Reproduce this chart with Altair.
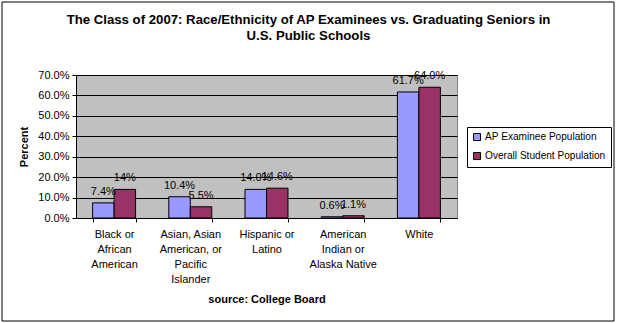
import altair as alt
import pandas as pd

categories = [
    "Black or\nAfrican\nAmerican",
    "Asian, Asian\nAmerican, or\nPacific\nIslander",
    "Hispanic or\nLatino",
    "American\nIndian or\nAlaska Native",
    "White",
]
series = ["AP Examinee Population", "Overall Student Population"]
ap_values = [0.074, 0.104, 0.140, 0.006, 0.617]
overall_values = [0.14, 0.055, 0.146, 0.011, 0.640]
ap_labels = ["7.4%", "10.4%", "14.0%", "0.6%", "61.7%"]
overall_labels = ["14%", "5.5%", "14.6%", "1.1%", "64.0%"]
y_ticks = [0.0, 0.1, 0.2, 0.3, 0.4, 0.5, 0.6, 0.7]

rows = []
for c, v, l in zip(categories, ap_values, ap_labels):
    rows.append({"category": c, "series": series[0], "value": v, "label": l})
for c, v, l in zip(categories, overall_values, overall_labels):
    rows.append({"category": c, "series": series[1], "value": v, "label": l})
df = pd.DataFrame(rows)

FONT = "Liberation Sans"

x_enc = alt.X(
    "category:N",
    sort=categories,
    scale=alt.Scale(paddingInner=0.436, paddingOuter=0.218),
    axis=alt.Axis(
        title="source: College Board",
        titleFont=FONT,
        titleFontSize=11,
        titleFontWeight="bold",
        titleColor="black",
        titlePadding=9,
        labelExpr="datum.value ? split(datum.value, '\\n') : ''",
        labelFont=FONT,
        labelFontSize=11,
        labelColor="black",
        labelLineHeight=15,
        labelAngle=0,
        labelPadding=6,
        labelBaseline="top",
        tickBand="extent",
        tickSize=4,
        tickColor="black",
        domainColor="black",
        grid=False,
    ),
)
y_enc = alt.Y(
    "value:Q",
    scale=alt.Scale(domain=[0, 0.7], nice=False),
    axis=alt.Axis(
        title="Percent",
        titleFont=FONT,
        titleFontSize=11,
        titleFontWeight="bold",
        titleColor="black",
        titlePadding=8,
        values=y_ticks,
        format=".1%",
        labelFont=FONT,
        labelFontSize=11,
        labelColor="black",
        labelPadding=3,
        tickSize=4,
        tickColor="black",
        domainColor="black",
        grid=True,
        gridColor="black",
        gridOpacity=1,
    ),
)
color_enc = alt.Color(
    "series:N",
    sort=series,
    scale=alt.Scale(domain=series, range=["#9999FF", "#993366"]),
    legend=alt.Legend(
        title=None,
        orient="none",
        legendX=391,
        legendY=52,
        symbolType="square",
        symbolSize=49,
        symbolStrokeColor="black",
        symbolStrokeWidth=1,
        symbolOpacity=1,
        labelFont=FONT,
        labelFontSize=10.1,
        labelColor="black",
        labelOffset=3,
        rowPadding=7,
        padding=5,
        strokeColor="black",
        fillColor="white",
    ),
)
xoff = alt.XOffset("series:N", sort=series, scale=alt.Scale(paddingInner=0, paddingOuter=0))

bars = alt.Chart(df).mark_bar(stroke="black", strokeWidth=1, opacity=1).encode(
    x=x_enc, y=y_enc, color=color_enc, xOffset=xoff
)
texts = alt.Chart(df).mark_text(
    baseline="alphabetic", dy=-8, font=FONT, fontSize=11, color="black"
).encode(x=x_enc, y=y_enc, xOffset=xoff, text="label:N")

frame = alt.Chart(pd.DataFrame({"v": [0]})).mark_rect(
    filled=False, stroke="black", strokeWidth=1
).encode(
    x=alt.value(-74), x2=alt.value(538), y=alt.value(-73), y2=alt.value(246)
)

chart = (
    alt.layer(bars, texts, frame)
    .properties(
        width=381,
        height=143,
        padding={"left": 76, "top": 75, "right": 161, "bottom": 105},
        autosize=alt.AutoSizeParams(type="none"),
        title=alt.TitleParams(
            text=[
                "The Class of 2007: Race/Ethnicity of AP Examinees vs. Graduating Seniors in",
                "U.S. Public Schools",
            ],
            font=FONT,
            fontSize=13.2,
            fontWeight="bold",
            color="black",
            anchor="middle",
            frame="group",
            dx=42,
            lineHeight=16,
            offset=-42,
        ),
        background="white",
    )
    .configure_view(fill="#C0C0C0", stroke="#808080", strokeWidth=1)
)

chart.save("out.html", embed_options={"renderer": "svg", "actions": False})
